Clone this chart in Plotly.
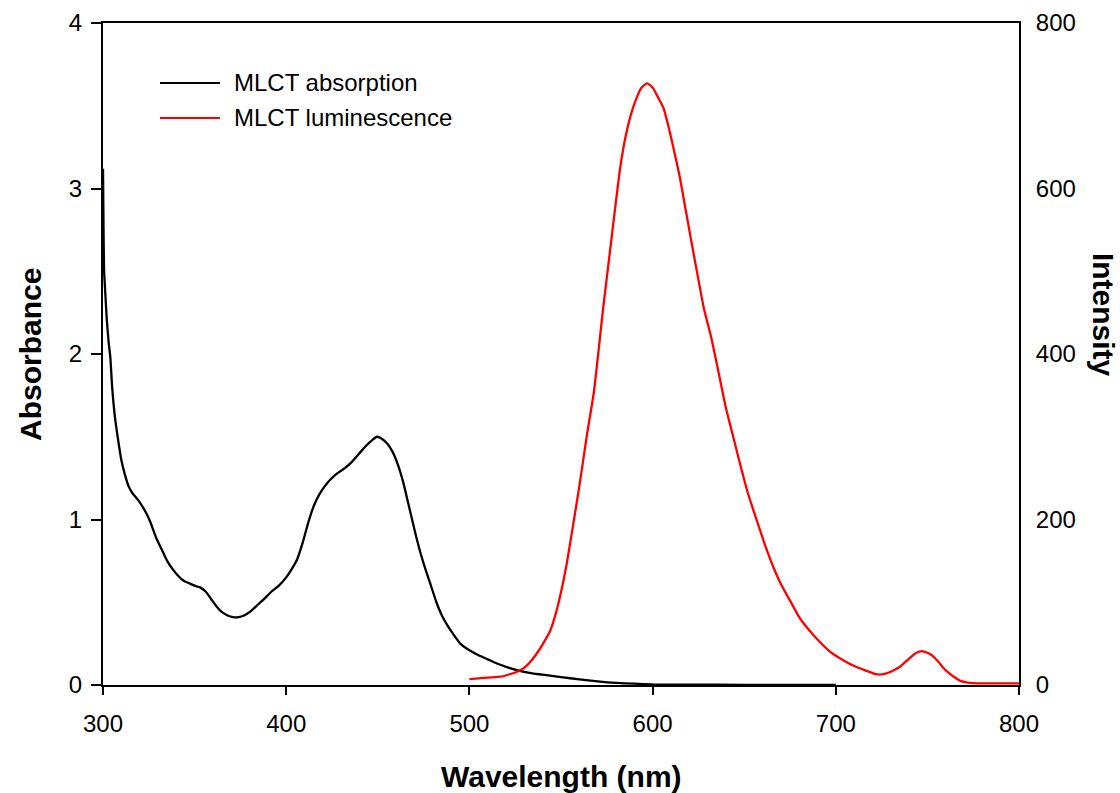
import plotly.graph_objects as go

# MLCT absorption (wavelength nm, absorbance)
abs_nm = [300, 300.3, 300.6, 301, 302, 303, 304, 305, 306.5, 308, 310, 312, 314, 316, 319,
          322, 324, 326, 329, 332, 335, 338, 341, 344, 347, 350, 353, 356, 359, 362, 365,
          368, 371, 374, 377, 380, 384, 388, 392, 396, 400, 403, 406, 409, 412, 415, 418,
          421, 424, 428, 432, 436, 440, 444, 447, 449.5, 452, 455, 458, 461, 464, 467, 470,
          473, 476, 479, 482, 485, 488, 491, 495, 500, 505, 510, 515, 520, 526, 532, 538,
          544, 550, 560, 570, 580, 590, 600, 620, 650, 700]
abs_val = [3.12, 2.75, 2.5, 2.42, 2.22, 2.08, 1.98, 1.80, 1.62, 1.50, 1.36, 1.27, 1.20, 1.16, 1.12,
           1.07, 1.03, 0.98, 0.89, 0.82, 0.75, 0.70, 0.66, 0.63, 0.615, 0.60, 0.59, 0.565, 0.52, 0.475, 0.44,
           0.42, 0.41, 0.41, 0.42, 0.44, 0.48, 0.52, 0.565, 0.60, 0.65, 0.70, 0.76, 0.86, 0.98, 1.08, 1.15,
           1.20, 1.24, 1.28, 1.31, 1.35, 1.40, 1.45, 1.48, 1.50, 1.49, 1.46, 1.41, 1.33, 1.22, 1.08, 0.94,
           0.81, 0.70, 0.60, 0.50, 0.42, 0.36, 0.31, 0.25, 0.21, 0.18, 0.155, 0.13, 0.11, 0.09, 0.075, 0.065,
           0.057, 0.048, 0.034, 0.022, 0.013, 0.008, 0.004, 0.002, 0.001, 0.0]

# MLCT luminescence (wavelength nm, intensity)
lum_nm = [500, 505, 510, 517, 522, 526, 530, 534, 538, 541, 544, 547, 550, 553, 556, 560, 564,
          568, 573, 577.6, 582, 585, 588, 591, 594, 597, 600, 603, 606, 609, 612, 615, 618, 621,
          624, 628, 632, 636, 640, 644, 648, 652, 657, 662, 666, 670, 675, 680, 684, 690, 697,
          704, 711, 717, 722, 726, 730, 735, 740, 744, 747, 750, 753, 756, 759, 762, 765, 768,
          772, 780, 790, 800]
lum_val = [7, 8, 9, 10, 13, 16, 21, 30, 42, 53, 65, 85, 112, 145, 185, 240, 300,
           355, 455, 540, 620, 660, 688, 708, 722, 727, 722, 710, 697, 672, 643, 612, 575, 538,
           502, 455, 420, 378, 335, 300, 265, 232, 198, 165, 142, 122, 102, 82, 70, 55, 40,
           30, 22, 17, 13, 13, 16, 22, 32, 39, 41, 39, 35, 28, 20, 14, 9, 5,
           3, 2, 2, 2]

x_ticks = [300, 400, 500, 600, 700, 800]
y_ticks = [0, 1, 2, 3, 4]
y2_ticks = [0, 200, 400, 600, 800]

FONT = "Arial, 'Liberation Sans', sans-serif"

fig = go.Figure()
fig.add_trace(go.Scatter(x=abs_nm, y=abs_val, mode="lines", name="MLCT absorption",
                         line=dict(color="black", width=2.3, shape="spline", smoothing=0.5),
                         yaxis="y", showlegend=False))
fig.add_trace(go.Scatter(x=lum_nm, y=lum_val, mode="lines", name="MLCT luminescence",
                         line=dict(color="#ff0000", width=2.3, shape="spline", smoothing=0.5),
                         yaxis="y2", showlegend=False))

axis_common = dict(showgrid=False, zeroline=False, showline=True, linecolor="black",
                   linewidth=2, tickcolor="black", tickwidth=2,
                   tickfont=dict(family=FONT, size=24, color="black"))

fig.update_layout(
    width=1120, height=793,
    margin=dict(l=103, r=101, t=23, b=108, autoexpand=False),
    paper_bgcolor="white", plot_bgcolor="white",
    xaxis=dict(range=[300, 800], tickvals=x_ticks, ticktext=[str(v) for v in x_ticks],
               ticks="outside", ticklen=8, mirror=True, ticklabelstandoff=8, **axis_common),
    yaxis=dict(range=[0, 4], tickvals=y_ticks, ticktext=[str(v) for v in y_ticks],
               ticks="outside", ticklen=10, ticklabelstandoff=4, **axis_common),
    yaxis2=dict(range=[0, 800], tickvals=y2_ticks, ticktext=[str(v) for v in y2_ticks],
                overlaying="y", side="right", ticks="", ticklabelstandoff=10, **axis_common),
)

# Axis titles
title_font = dict(family=FONT, size=30, color="black", weight="bold")
fig.add_annotation(text="Absorbance", xref="paper", yref="paper", x=-0.0797, y=0.5,
                   textangle=-90, showarrow=False, font=title_font,
                   xanchor="center", yanchor="middle")
fig.add_annotation(text="Wavelength (nm)", xref="paper", yref="paper", x=0.5, y=-0.1375,
                   showarrow=False, font=title_font, xanchor="center", yanchor="middle")
fig.add_annotation(text="Intensity", xref="paper", yref="paper", x=1.0917, y=0.559,
                   textangle=90, showarrow=False, font=title_font,
                   xanchor="center", yanchor="middle")

# Legend (drawn manually to match the long legend line samples)
legend_items = [("MLCT absorption", "black", 0.9094), ("MLCT luminescence", "#ff0000", 0.8565)]
for label, color, ypos in legend_items:
    fig.add_shape(type="line", xref="paper", yref="paper", x0=0.0622, x1=0.1277,
                  y0=ypos, y1=ypos, line=dict(color=color, width=2))
    fig.add_annotation(text=label, xref="paper", yref="paper", x=0.1408, y=ypos,
                       showarrow=False, xanchor="left", yanchor="middle",
                       font=dict(family=FONT, size=24, color="black"))

fig.write_html("out.html")
